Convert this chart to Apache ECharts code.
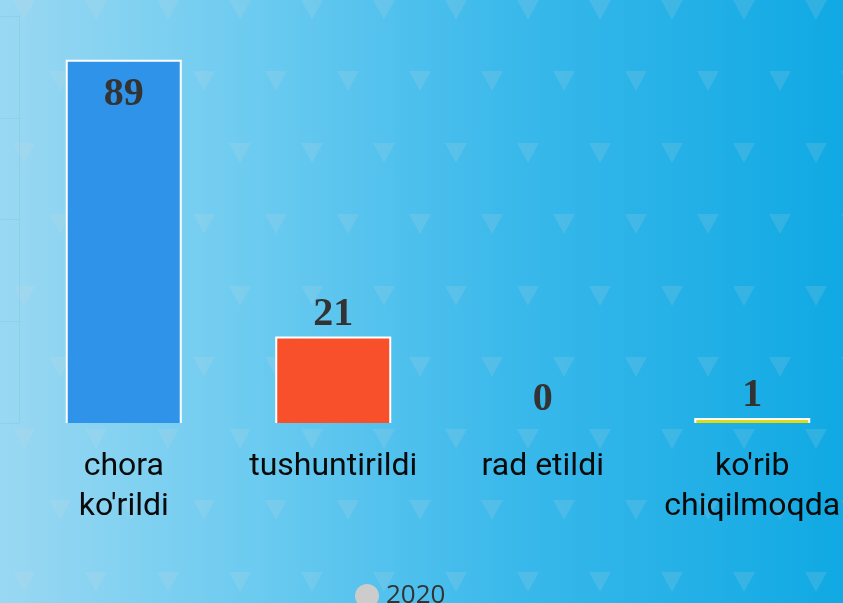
<!DOCTYPE html>
<html>
<head>
<meta charset="utf-8">
<script src="https://cdn.jsdelivr.net/npm/echarts@6/dist/echarts.min.js"></script>
<style>
  html, body { margin: 0; padding: 0; }
  #chart { width: 843px; height: 603px; }
</style>
</head>
<body>
<div id="chart"></div>
<script>
const categories = ["chora\nko'rildi", "tushuntirildi", "rad etildi", "ko'rib\nchiqilmoqda"];
const values = [89, 21, 0, 1];
const barColors = ['#2f93ea', '#f8502b', '#2f93ea', '#dcdc1e'];
const seriesName = '2020';
const yMin = 0, yMax = 100, yInterval = 25;

// triangle pattern tile
const tile = document.createElement('canvas');
tile.width = 72; tile.height = 143;
const tc = tile.getContext('2d');
tc.fillStyle = 'rgba(217,217,217,0.14)';
tc.beginPath(); tc.moveTo(13, 0); tc.lineTo(35, 0); tc.lineTo(24, 20); tc.closePath(); tc.fill();
tc.beginPath(); tc.moveTo(49, 71); tc.lineTo(71, 71); tc.lineTo(60, 91); tc.closePath(); tc.fill();

const BAR_W = 114;

const chart = echarts.init(document.getElementById('chart'));
chart.setOption({
  animation: false,
  backgroundColor: {
    type: 'linear', x: 0, y: 0, x2: 1, y2: 0,
    colorStops: [
      { offset: 0, color: '#9ad8f2' },
      { offset: 0.3, color: '#6ccbf0' },
      { offset: 0.6, color: '#3bb9eb' },
      { offset: 1, color: '#10a9e3' }
    ]
  },
  graphic: {
    elements: [{
      type: 'rect', z: -100, silent: true,
      shape: { x: 0, y: 0, width: 843, height: 603 },
      style: { fill: { image: tile, repeat: 'repeat' } }
    }]
  },
  grid: { left: 19, right: -14, top: 16, bottom: 180, containLabel: false, outerBoundsMode: 'none' },
  legend: {
    left: 350, top: 578,
    icon: 'circle', itemWidth: 28, itemHeight: 24,
    data: [seriesName],
    itemStyle: { color: '#cccccc', borderWidth: 0 },
    textStyle: { fontFamily: 'Open Sans', fontSize: 26, color: '#333' }
  },
  xAxis: {
    type: 'category',
    data: categories,
    axisLine: { show: false },
    axisTick: { show: false },
    axisLabel: {
      interval: 0,
      margin: 24,
      fontFamily: 'Roboto',
      fontSize: 32,
      lineHeight: 40,
      color: '#0a0a0a',
      hideOverlap: false
    }
  },
  yAxis: {
    type: 'value',
    min: yMin, max: yMax, interval: yInterval,
    axisLabel: { show: false },
    splitLine: { show: false },
    axisLine: { show: true, lineStyle: { color: 'rgba(40,90,120,0.06)', width: 1 } },
    axisTick: { show: true, length: 19, lineStyle: { color: 'rgba(40,90,120,0.06)', width: 1 } }
  },
  series: [{
    name: seriesName,
    type: 'bar',
    barWidth: BAR_W,
    itemStyle: { color: '#cccccc', borderWidth: 0 },
    label: {
      show: true,
      position: 'top',
      distance: 3,
      fontFamily: 'Liberation Serif',
      fontWeight: 'bold',
      fontSize: 40,
      color: '#333'
    },
    data: values.map((v, i) => ({
      value: v,
      itemStyle: { color: barColors[i] },
      label: v > 80 ? { position: 'insideTop', distance: 14 } : {}
    }))
  }, {
    name: 'border',
    type: 'custom',
    silent: true,
    z: 3,
    encode: { x: 0, y: 1 },
    data: values.map((v, i) => [i, v]),
    renderItem: function (params, api) {
      const v = api.value(1);
      if (!v) return null;
      const top = api.coord([api.value(0), v]);
      const base = api.coord([api.value(0), 0]);
      const hw = BAR_W / 2;
      return {
        type: 'polyline',
        shape: { points: [[top[0] - hw, base[1]], [top[0] - hw, top[1]], [top[0] + hw, top[1]], [top[0] + hw, base[1]]] },
        style: { stroke: '#ffffff', lineWidth: 2, fill: null }
      };
    }
  }]
});
</script>
</body>
</html>
